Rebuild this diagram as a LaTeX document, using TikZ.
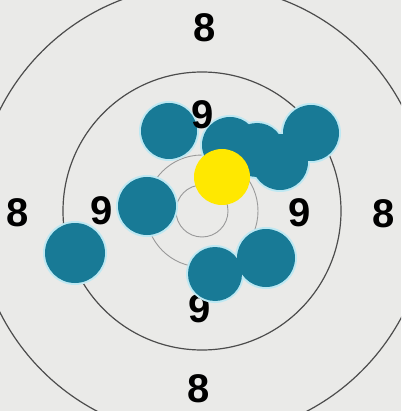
\documentclass[tikz,border=0pt]{standalone}
\usepackage{fontspec}
\setmainfont{Liberation Sans}
\definecolor{paper}{RGB}{234,234,232}
\definecolor{holeblue}{RGB}{24,122,150}
\definecolor{haloblue}{RGB}{190,232,242}
\definecolor{spot}{RGB}{255,232,0}
\tikzset{
  ring/.style={draw=black!70, line width=1.2pt},
  faintring/.style={draw=black!40, line width=0.9pt},
  hole/.style={fill=holeblue},
  halo/.style={fill=haloblue},
  score/.style={font=\fontsize{40}{40}\selectfont\bfseries, inner sep=0pt},
}

\begin{document}
\begin{tikzpicture}[x=1pt, y=-1pt]
  \useasboundingbox (0,0) rectangle (401,411);
  \clip (0,0) rectangle (401,411);
  \fill[paper] (0,0) rectangle (401,411);
  % rings
  \coordinate (O) at (202,211);
  \draw[ring] (O) circle (226pt);
  \draw[ring] (O) circle (139pt);
  \draw[faintring] (O) circle (56pt);
  \draw[faintring] (O) circle (26pt);
  % hit points
  \coordinate (H1) at (169,131);
  \coordinate (H2) at (230,145);
  \coordinate (H3) at (257,150);
  \coordinate (H4) at (280,162);
  \coordinate (H5) at (311,133);
  \coordinate (H6) at (147,206);
  \coordinate (H7) at (75,253);
  \coordinate (H8) at (215,274);
  \coordinate (H9) at (266,258);
  \coordinate (Y) at (222,177);
  \node[score] (n9b) at (200,309) {9};
  \foreach \h/\r in {H1/28,H2/28,H3/27,H4/28,H5/28,H6/29,H7/30,H8/27,H9/29}
    \fill[halo] (\h) circle (\r pt + 2pt);
  \foreach \h/\r in {H1/28,H2/28,H3/27,H4/28,H5/28,H6/29,H7/30,H8/27,H9/29}
    \fill[hole] (\h) circle (\r pt);
  \fill[spot] (Y) circle (28pt);
  % scores
  \node[score] (n8t) at (205,28) {8};
  \node[score] (n8l) at (18,213) {8};
  \node[score] (n8r) at (384,214) {8};
  \node[score] (n8b) at (199,389) {8};
  \node[score] (n9t) at (203,115) {9};
  \node[score] (n9l) at (102,211) {9};
  \node[score] (n9r) at (300,213) {9};
\end{tikzpicture}
\end{document}
